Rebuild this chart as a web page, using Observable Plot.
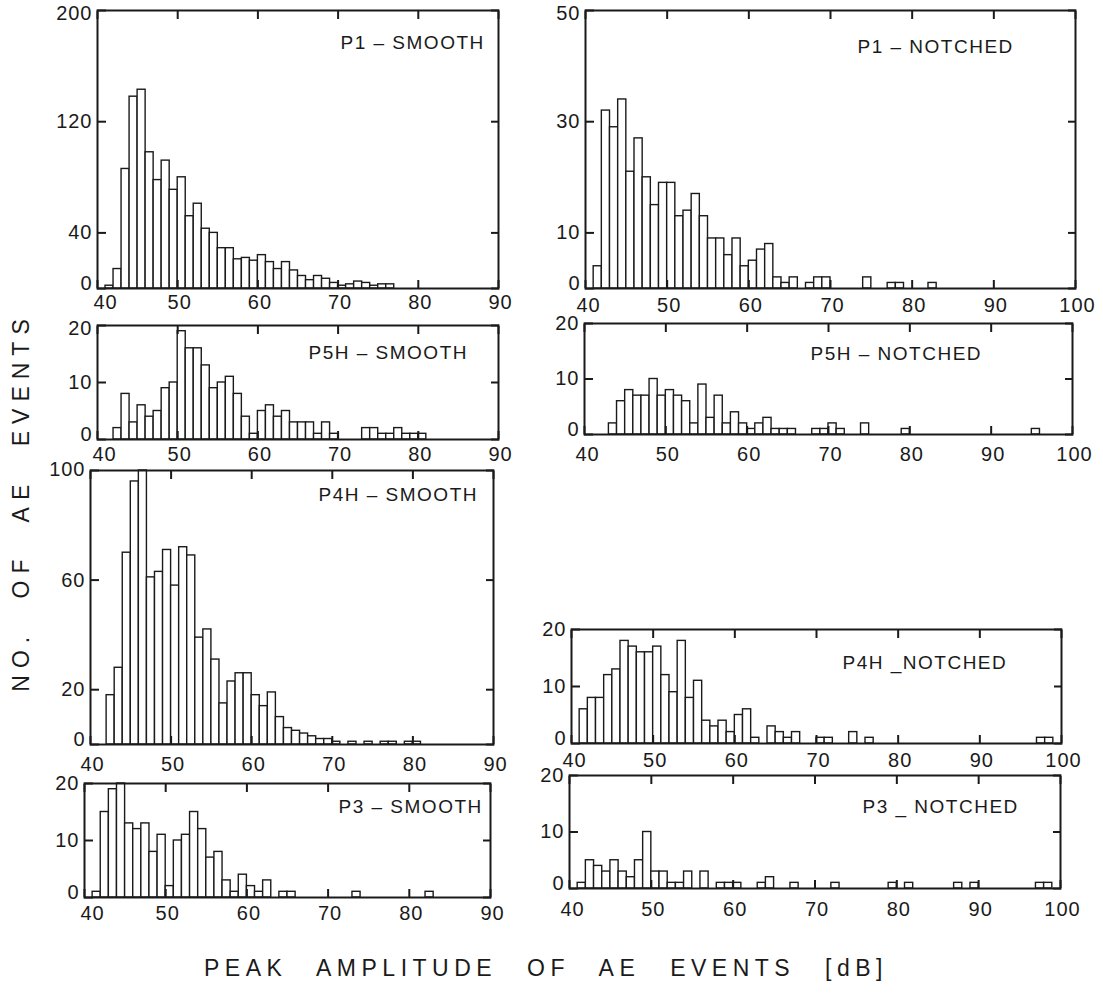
<!DOCTYPE html>
<html><head><meta charset="utf-8">
<script src="https://cdn.jsdelivr.net/npm/d3@7"></script>
<script src="https://cdn.jsdelivr.net/npm/@observablehq/plot@0.6"></script>
<style>
body{margin:0;background:#ffffff;}
#fig{position:relative;width:1103px;height:993px;overflow:hidden;background:#ffffff;font-family:"Liberation Sans","DejaVu Sans",sans-serif;color:#1a1a1a;}
#fig svg{position:absolute;overflow:visible;}
#ytitle{position:absolute;left:21px;top:502px;transform:translate(-50%,-50%) rotate(-90deg);white-space:nowrap;font-size:23px;letter-spacing:7px;word-spacing:18px;}
#xtitle{position:absolute;left:546px;top:968px;transform:translate(-50%,-50%);white-space:nowrap;font-size:23px;letter-spacing:5.5px;word-spacing:18px;}
</style></head>
<body><div id="fig"><div id="ytitle">NO. OF AE EVENTS</div><div id="xtitle">PEAK AMPLITUDE OF AE EVENTS [dB]</div></div>
<script>
// ---- data: counts per 1 dB bin, starting at the given dB ----
const p1SmoothStart = 41;
const p1SmoothCounts = [2,14,86,138,143,98,78,92,71,80,52,61,43,40,29,29,21,22,20,24,19,14,19,13,9,6,9,7,4,2,3,5,4,2,3,3];
const p1NotchedStart = 41;
const p1NotchedCounts = [4,32,29,34,21,27,20,15,19,19,13,14,17,13,9,9,6,9,4,5,7,8,2,1,2,0,1,2,2,0,0,0,0,2,0,0,1,1,0,0,0,1];
const p5hSmoothStart = 42;
const p5hSmoothCounts = [2,8,3,6,4,5,9,10,19,16,16,13,9,10,11,8,4,1,5,6,4,5,3,3,3,1,3,1,0,0,0,2,2,1,1,2,1,1,1];
const p5hNotchedStart = 43;
const p5hNotchedCounts = [2,6,8,7,7,10,7,8,7,6,2,9,3,7,2,4,2,1,2,3,1,1,1,0,0,1,1,2,1,0,0,2,0,0,0,0,1,0,0,0,0,0,0,0,0,0,0,0,0,0,0,0,1];
const p4hSmoothStart = 42;
const p4hSmoothCounts = [18,28,70,96,100,61,63,71,58,72,69,39,42,31,15,23,26,26,18,14,19,10,6,5,4,3,2,2,1,0,1,0,1,0,1,1,0,1,1];
const p4hNotchedStart = 41;
const p4hNotchedCounts = [6,8,8,12,13,18,17,16,16,17,12,9,18,8,11,4,3,4,2,5,6,1,0,3,2,1,2,0,0,1,1,0,0,2,0,1,0,0,0,0,0,0,0,0,0,0,0,0,0,0,0,0,0,0,0,0,1,1];
const p3SmoothStart = 41;
const p3SmoothCounts = [1,15,19,20,13,12,13,8,11,2,10,11,15,12,7,8,3,1,4,2,1,3,0,1,1,0,0,0,0,0,0,0,1,0,0,0,0,0,0,0,0,1];
const p3NotchedStart = 41;
const p3NotchedCounts = [1,5,4,3,5,3,2,5,10,3,3,1,1,3,0,3,0,1,1,1,0,0,1,2,0,0,1,0,0,0,0,1,0,0,0,0,0,0,1,0,1,0,0,0,0,0,1,0,1,0,0,0,0,0,0,0,1,1];

// ---- tick labels ----
const xTicks90 = [40,50,60,70,80,90];
const xTicks100 = [40,50,60,70,80,90,100];
const p1SmoothYTicks = [0,40,120,200];
const p1NotchedYTicks = [0,10,30,50];
const p4hSmoothYTicks = [0,20,60,100];
const yTicks20 = [0,10,20];
const titles = ["P1 – SMOOTH","P1 – NOTCHED","P5H – SMOOTH","P5H – NOTCHED","P4H – SMOOTH","P4H _NOTCHED","P3 – SMOOTH","P3 _ NOTCHED"];

// ---- layout (frame edges in page pixels) ----
const panels = [
  {start:p1SmoothStart, counts:p1SmoothCounts, xt:xTicks90, yMax:200, yt:p1SmoothYTicks, L:97, R:498, T:10, B:288, tx:340, ty:48, pad:6, d40:8, dTop:3},
  {start:p1NotchedStart, counts:p1NotchedCounts, xt:xTicks100, yMax:50, yt:p1NotchedYTicks, L:585, R:1075, T:10, B:288, tx:857, ty:52, pad:9, d40:3, dTop:3},
  {start:p5hSmoothStart, counts:p5hSmoothCounts, xt:xTicks90, yMax:20, yt:yTicks20, L:97, R:498, T:325, B:439, tx:308, ty:358, pad:7, d40:7, dTop:3},
  {start:p5hNotchedStart, counts:p5hNotchedCounts, xt:xTicks100, yMax:20, yt:yTicks20, L:584, R:1072, T:323, B:434, tx:810, ty:359, pad:12, d40:3, dTop:0},
  {start:p4hSmoothStart, counts:p4hSmoothCounts, xt:xTicks90, yMax:100, yt:p4hSmoothYTicks, L:90, R:493, T:470, B:744, tx:318, ty:500, pad:12, d40:2, dTop:-1},
  {start:p4hNotchedStart, counts:p4hNotchedCounts, xt:xTicks100, yMax:20, yt:yTicks20, L:571, R:1061, T:629, B:743, tx:842, ty:668, pad:9, d40:3, dTop:0},
  {start:p3SmoothStart, counts:p3SmoothCounts, xt:xTicks90, yMax:20, yt:yTicks20, L:84, R:490, T:783, B:897, tx:338, ty:812, pad:8, d40:8, dTop:0},
  {start:p3NotchedStart, counts:p3NotchedCounts, xt:xTicks100, yMax:20, yt:yTicks20, L:569, R:1060, T:775, B:888, tx:862, ty:812, pad:13, d40:3, dTop:0}
];

const ink = "#1a1a1a";
const mL = 60, mR = 45, mT = 6, mB = 40;
const fig = document.getElementById("fig");
const fs = 20;

panels.forEach((p, i) => {
  const data = p.counts.map((n, k) => ({x1: p.start + k, x2: p.start + k + 1, n})).filter(d => d.n > 0);
  const xMax = p.xt[p.xt.length - 1];
  const yTop = p.yt[p.yt.length - 1];
  const svg = Plot.plot({
    width: (p.R - p.L) + mL + mR,
    height: (p.B - p.T) + mT + mB,
    marginLeft: mL, marginRight: mR, marginTop: mT, marginBottom: mB,
    x: {domain: [40, xMax], label: null},
    y: {domain: [0, p.yMax], label: null},
    style: {background: "transparent", fontFamily: '"Liberation Sans","DejaVu Sans",sans-serif', color: ink, overflow: "visible"},
    marks: [
      Plot.rectY(data, {x1: "x1", x2: "x2", y: "n", fill: "#ffffff", stroke: ink, strokeWidth: 1.4}),
      // inward ticks on all four sides
      Plot.axisX({anchor: "top", ticks: p.xt, tickSize: 8, dy: 8, tickFormat: () => "", strokeWidth: 2, label: null}),
      Plot.axisX({anchor: "bottom", ticks: p.xt, tickSize: 8, dy: -8, tickFormat: () => "", strokeWidth: 2, label: null}),
      Plot.axisY({anchor: "left", ticks: p.yt, tickSize: 9, dx: 9, tickFormat: () => "", strokeWidth: 2, label: null}),
      Plot.axisY({anchor: "right", ticks: p.yt, tickSize: 8, dx: -8, tickFormat: () => "", strokeWidth: 2, label: null}),
      // tick labels
      Plot.axisX({anchor: "bottom", ticks: p.xt.filter(v => v !== 40), tickSize: 0, tickPadding: p.pad, dx: 2, fontSize: fs, label: null}),
      Plot.axisX({anchor: "bottom", ticks: [40], tickSize: 0, tickPadding: p.pad, dx: p.d40, fontSize: fs, label: null}),
      Plot.axisY({anchor: "left", ticks: [0], tickSize: 0, tickPadding: 5, dy: -5, fontSize: fs, label: null}),
      Plot.axisY({anchor: "left", ticks: p.yt.filter(v => v !== 0 && v !== yTop), tickSize: 0, tickPadding: 5, fontSize: fs, label: null}),
      Plot.axisY({anchor: "left", ticks: [yTop], tickSize: 0, tickPadding: 5, dy: p.dTop, fontSize: fs, label: null}),
      Plot.frame({stroke: ink, strokeWidth: 2}),
      Plot.text([titles[i]], {frameAnchor: "top-left", textAnchor: "start", lineAnchor: "bottom", dx: p.tx - p.L, dy: p.ty - p.T, fontSize: 19, fill: ink})
    ]
  });
  svg.style.left = (p.L - mL) + "px";
  svg.style.top = (p.T - mT) + "px";
  d3.select(svg).selectAll('g[aria-label="text"] text').style("letter-spacing", "1.5px");
  d3.select(svg).selectAll('g[aria-label$="tick label"] text').style("letter-spacing", "1px");
  fig.appendChild(svg);
});
</script>
</body></html>
